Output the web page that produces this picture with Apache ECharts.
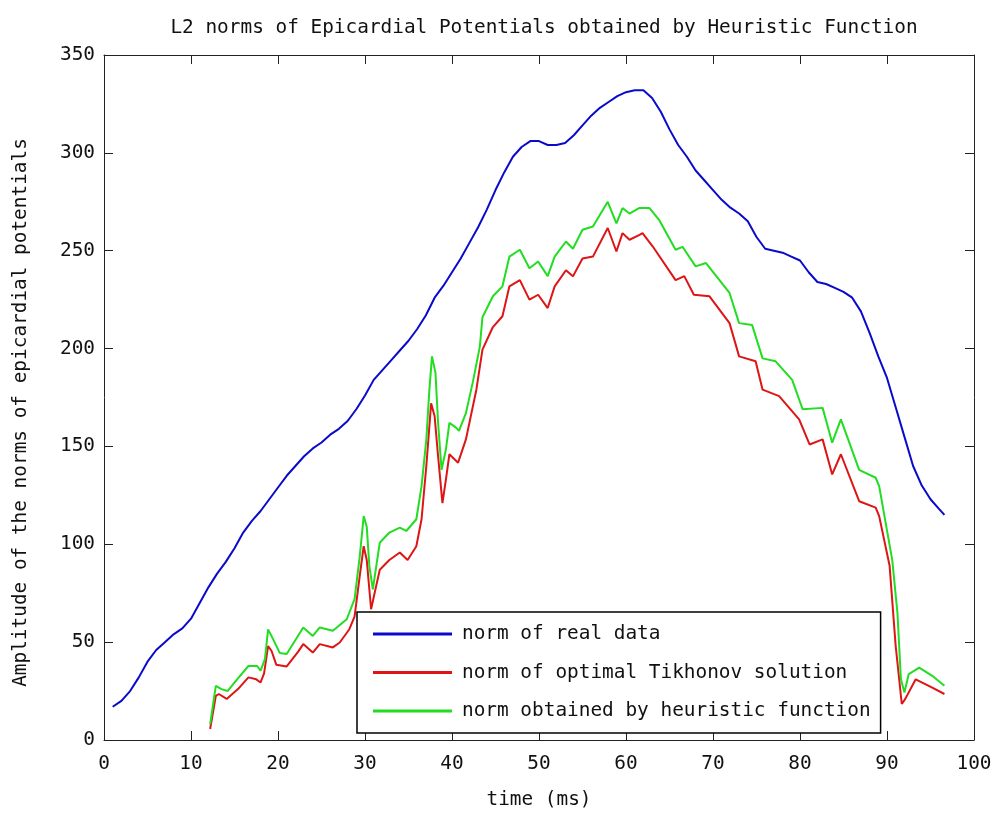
<!DOCTYPE html>
<html>
<head>
<meta charset="utf-8">
<script src="https://cdn.jsdelivr.net/npm/echarts@6/dist/echarts.min.js"></script>
<style>html,body{margin:0;padding:0;background:#fff}#c{width:1001px;height:814px}</style>
</head>
<body>
<div id="c"></div>
<script>
// ---- data ----
const xTicks = [0,10,20,30,40,50,60,70,80,90,100];
const yTicks = [0,50,100,150,200,250,300,350];
const seriesNames = ['norm of real data','norm of optimal Tikhonov solution','norm obtained by heuristic function'];

const blueTime = [1,2,3,4,5,6,7,8,9,10,11,12,13,14,15,16,17,18,19,20,21,22,23,24,25,26,27,28,29,30,31,32,33,34,35,36,37,38,39,40,41,42,43,44,45,46,47,48,49,50,51,52,53,54,55,56,57,58,59,60,61,62,63,64,65,66,67,68,69,70,71,72,73,74,75,76,77,78,79,80,81,82,83,84,85,86,87,88,89,90,91,92,93,94,95,96,96.6];
const blueValues = [17,20,25,32,40,46,50,54,57,62,70,78,85,91,98,106,112,117,123,129,135,140,145,149,152,156,159,163,169,176,184,189,194,199,204,210,217,226,232,239,246,254,262,271,281,290,298,303,306,306,304,304,305,309,314,319,323,326,329,331,332,332,328,321,312,304,298,291,286,281,276,272,269,265,257,251,250,249,247,245,239,234,233,231,229,226,219,208,196,185,170,155,140,130,123,118,115];

const redTime = [12.2,12.85,13.2,14.1,15.4,16.6,17.5,18,18.4,18.86,19.25,19.8,21,22.3,22.9,24,24.8,26.3,27.1,28.2,28.8,29.4,29.85,30.2,30.7,31.1,31.7,32.8,34,34.9,35.9,36.5,37.05,37.6,38,38.4,38.9,39.3,39.7,40.7,41.6,42.8,43.5,44.7,45.8,46.6,47.8,48.9,49.9,51,51.8,53.1,53.9,55,56.2,57.9,58.9,59.6,60.4,61.5,61.9,63.1,65.7,66.7,67.8,69.6,71.9,73,74.9,75.7,77.6,79.9,81.1,82.6,83.7,84.7,86.8,88.7,89.1,90.3,91,91.7,92.1,93.3,95.2,96.6];
const redValues = [5.6,22.5,23.5,21,26,32,31,29.4,34,48,45.6,38.5,37.6,45,49,44.7,49,47.3,49.8,56.6,63,84,99,92,66.8,75,87,92,95.8,92,99,112.8,140,172,165.5,145,121,133,146,141.7,153.6,179,199.5,211,216.5,231.8,235,225,227.5,220.7,231.8,240,236.9,246,247,261.6,249.6,259,255.6,258,259,252,235,237,227.5,226.7,213,196,193.5,179,175.7,163.8,151,153.6,135.7,146,122,118.7,114.4,89,48,18.4,21,31,26.8,23.5];

const greenTime = [12.2,12.85,13.5,14.2,15.3,16.6,17.6,18,18.5,18.86,19.25,20.2,21,22.9,24,24.8,26.3,27.9,28.8,29.4,29.85,30.2,30.5,30.9,31.3,31.7,32.8,34,34.75,35.9,36.5,37.05,37.4,37.7,38.1,38.4,38.8,39.3,39.7,40.5,40.8,41.6,42.4,43.2,43.5,44.7,45.8,46.6,47.8,48.9,49.9,51,51.8,53.1,53.9,55,56.2,57.9,58.9,59.6,60.4,61.5,62.7,63.8,65.7,66.5,68,69.2,71.9,73,74.5,75.7,77.2,79.1,80.3,82.6,83.7,84.7,86.8,88.7,89.1,90.6,91.2,91.6,92,92.5,93.7,95.2,96.6];
const greenValues = [8,27.7,26,25,31,37.8,37.8,35.4,41.3,56.5,53.2,44.5,43.9,57.5,53.2,57.5,55.8,61.7,72,94,114.4,109,89,77,89,100.8,106,108.5,106.8,112.8,129.7,153.6,179,196,187.6,162,138,148.5,162,159.5,158,167,183,201,216,226.7,231.8,247,250.5,241,244.5,237,247,254.7,251,260.7,262.4,275,264,271.8,269,271.8,271.8,265.8,250.5,252,242,243.7,228.4,213,212,195,193.5,184,169,169.7,151.9,163.8,138,134,129.7,92,65,31,24.3,33.7,37,32.8,27.7];

const zip = (a, b) => a.map((v, i) => [v, b[i]]);

const FONT = 'DejaVu Sans Mono';
const FS = 19.4;
const TXT = '#111';
const axisCommon = {
  type: 'value',
  axisLine: { show: true, onZero: false, lineStyle: { color: '#222', width: 1 } },
  axisTick: { show: true, inside: true, length: 9, lineStyle: { color: '#222', width: 1 } },
  splitLine: { show: false },
  axisLabel: { color: TXT, fontFamily: FONT, fontSize: FS }
};

const chart = echarts.init(document.getElementById('c'), null, { renderer: 'canvas' });
chart.setOption({
  backgroundColor: '#fff',
  animation: false,
  title: {
    text: 'L2 norms of Epicardial Potentials obtained by Heuristic Function',
    left: 539, top: 13, textAlign: 'center',
    textStyle: { color: TXT, fontFamily: FONT, fontSize: FS, fontWeight: 'normal' }
  },
  grid: { left: 104, right: 27, top: 55, bottom: 73 },
  xAxis: [
    Object.assign({}, axisCommon, {
      min: xTicks[0], max: xTicks[xTicks.length - 1], interval: xTicks[1] - xTicks[0],
      position: 'bottom',
      name: 'time (ms)', nameLocation: 'middle', nameGap: 50,
      nameTextStyle: { color: TXT, fontFamily: FONT, fontSize: FS },
      axisLabel: { color: TXT, fontFamily: FONT, fontSize: FS, margin: 14 }
    }),
    Object.assign({}, axisCommon, {
      min: xTicks[0], max: xTicks[xTicks.length - 1], interval: xTicks[1] - xTicks[0],
      position: 'top', axisLabel: { show: false }
    })
  ],
  yAxis: [
    Object.assign({}, axisCommon, {
      min: yTicks[0], max: yTicks[yTicks.length - 1], interval: yTicks[1] - yTicks[0],
      position: 'left',
      name: 'Amplitude of the norms of epicardial potentials', nameLocation: 'middle', nameGap: 74,
      nameTextStyle: { color: TXT, fontFamily: FONT, fontSize: FS, padding: [0, 30, 0, 0] },
      axisLabel: { color: TXT, fontFamily: FONT, fontSize: FS, margin: 9 }
    }),
    Object.assign({}, axisCommon, {
      min: yTicks[0], max: yTicks[yTicks.length - 1], interval: yTicks[1] - yTicks[0],
      position: 'right', axisLabel: { show: false }
    })
  ],
  legend: {
    orient: 'vertical',
    left: 357, top: 612,
    data: seriesNames,
    icon: 'rect',
    itemWidth: 79, itemHeight: 3, itemGap: 16.5,
    padding: [11, 10, 11, 16],
    borderColor: '#000', borderWidth: 1.5, backgroundColor: '#fff',
    textStyle: { color: TXT, fontFamily: FONT, fontSize: FS, lineHeight: 22, padding: [0, 0, 0, 5] }
  },
  series: [
    { name: seriesNames[0], type: 'line', symbol: 'none', data: zip(blueTime, blueValues),
      lineStyle: { color: '#0a0acc', width: 2 }, itemStyle: { color: '#0a0acc' } },
    { name: seriesNames[1], type: 'line', symbol: 'none', data: zip(redTime, redValues),
      lineStyle: { color: '#dd1515', width: 2 }, itemStyle: { color: '#dd1515' } },
    { name: seriesNames[2], type: 'line', symbol: 'none', data: zip(greenTime, greenValues),
      lineStyle: { color: '#22dd22', width: 2 }, itemStyle: { color: '#22dd22' } }
  ]
});
</script>
</body>
</html>
